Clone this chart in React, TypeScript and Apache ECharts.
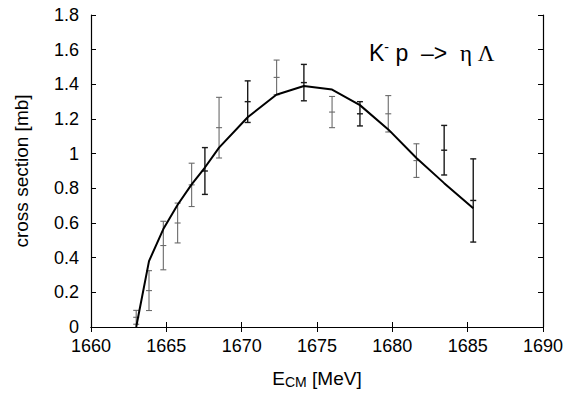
import React, { useEffect, useRef } from "react";
import * as echarts from "echarts";

const energies = [1663.0, 1663.85, 1664.8, 1665.75, 1666.68, 1667.56, 1668.5, 1670.4, 1672.32, 1674.13, 1676.0, 1677.85, 1679.73, 1681.6, 1683.44, 1685.37];
const values = [0.056, 0.21, 0.47, 0.6, 0.82, 0.9, 1.15, 1.3, 1.44, 1.41, 1.24, 1.23, 1.23, 0.96, 1.02, 0.73];
const errors = [0.04, 0.115, 0.14, 0.115, 0.125, 0.135, 0.175, 0.12, 0.1, 0.105, 0.09, 0.07, 0.105, 0.097, 0.143, 0.24];
const darkSet = [false, false, false, false, false, true, false, true, false, true, false, true, false, false, true, true];

const curveE = [1663.0, 1663.85, 1664.8, 1665.75, 1666.68, 1667.56, 1668.5, 1670.4, 1672.3, 1674.13, 1676.0, 1677.85, 1679.73, 1681.6, 1683.44, 1685.37];
const curveXS = [0, 0.38, 0.565, 0.705, 0.823, 0.92, 1.035, 1.21, 1.34, 1.39, 1.37, 1.28, 1.14, 0.975, 0.83, 0.685];

const FONT = "'Liberation Sans', Arial, Helvetica, sans-serif";

function makeErrSeries(dark: boolean) {
  const data: number[][] = [];
  energies.forEach((e, i) => {
    if (darkSet[i] === dark) data.push([e, values[i], values[i] - errors[i], values[i] + errors[i]]);
  });
  const color = dark ? "#1a1a1a" : "#6a6a6a";
  const lw = dark ? 1.4 : 1.1;
  return {
    type: "custom",
    xAxisIndex: 0,
    yAxisIndex: 0,
    data,
    z: 3,
    renderItem: (params: any, api: any) => {
      const x = api.value(0);
      const y = api.value(1);
      const lo = Math.max(0, api.value(2));
      const hi = api.value(3);
      const pc = api.coord([x, y]);
      const pl = api.coord([x, lo]);
      const ph = api.coord([x, hi]);
      const c = 3;
      const st = { stroke: color, lineWidth: lw };
      return {
        type: "group",
        children: [
          { type: "line", shape: { x1: pl[0], y1: pl[1], x2: ph[0], y2: ph[1] }, style: st },
          { type: "line", shape: { x1: pl[0] - c, y1: pl[1], x2: pl[0] + c, y2: pl[1] }, style: st },
          { type: "line", shape: { x1: ph[0] - c, y1: ph[1], x2: ph[0] + c, y2: ph[1] }, style: st },
          { type: "line", shape: { x1: pc[0] - c, y1: pc[1], x2: pc[0] + c, y2: pc[1] }, style: st },
        ],
      };
    },
  };
}

export default function App() {
  const ref = useRef<HTMLDivElement>(null);
  useEffect(() => {
    if (!ref.current) return;
    const chart = echarts.init(ref.current, null, { renderer: "svg" });
    const axisLine = { show: true, lineStyle: { color: "#000", width: 1.2 } };
    const tick = { show: true, inside: true, length: 5, lineStyle: { color: "#000", width: 1 } };
    chart.setOption({
      animation: false,
      backgroundColor: "#fff",
      grid: { left: 91, right: 27, top: 15, bottom: 59 },
      xAxis: [
        {
          type: "value",
          min: 1660,
          max: 1690,
          interval: 5,
          axisLine,
          axisTick: tick,
          splitLine: { show: false },
          axisLabel: {
            color: "#000",
            fontSize: 18,
            lineHeight: 14,
            fontFamily: FONT,
            margin: 12,
            formatter: (v: number) => String(v),
          },
          name: "{a|E}{s|CM}{a| [MeV]}",
          nameLocation: "middle",
          nameGap: 40,
          nameTextStyle: {
            rich: {
              a: { fontSize: 19, fontFamily: FONT, color: "#000" },
              s: { fontSize: 14, fontFamily: FONT, color: "#000", verticalAlign: "bottom", padding: [8, 0, 0, 0] },
            },
          },
        },
        {
          type: "value",
          position: "top",
          min: 1660,
          max: 1690,
          interval: 5,
          axisLine,
          axisTick: tick,
          splitLine: { show: false },
          axisLabel: { show: false },
        },
      ],
      yAxis: [
        {
          type: "value",
          min: 0,
          max: 1.8,
          interval: 0.2,
          axisLine,
          axisTick: tick,
          splitLine: { show: false },
          axisLabel: {
            color: "#000",
            fontSize: 18,
            lineHeight: 14,
            fontFamily: FONT,
            margin: 12,
            formatter: (v: number) => String(Math.round(v * 10) / 10),
          },
          name: "cross section [mb]",
          nameLocation: "middle",
          nameGap: 60,
          nameTextStyle: { fontSize: 19, fontFamily: FONT, color: "#000" },
        },
        {
          type: "value",
          position: "right",
          min: 0,
          max: 1.8,
          interval: 0.2,
          axisLine,
          axisTick: tick,
          splitLine: { show: false },
          axisLabel: { show: false },
        },
      ],
      graphic: [
        {
          type: "text",
          left: 369,
          top: 40,
          style: {
            text: "{a|K}{s|-}{a| p  –>  }{g|η }{g|Λ}",
            rich: {
              a: { fontSize: 23, fontFamily: FONT, fill: "#000" },
              s: { fontSize: 14, fontFamily: FONT, fill: "#000", verticalAlign: "top", padding: [0, 0, 12, 0] },
              g: { fontSize: 23, fontFamily: "'Liberation Serif', 'Times New Roman', serif", fill: "#000" },
            },
          },
        },
      ],
      series: [
        {
          type: "line",
          data: curveE.map((e, i) => [e, curveXS[i]]),
          showSymbol: false,
          lineStyle: { color: "#000", width: 2 },
          z: 4,
        },
        makeErrSeries(false),
        makeErrSeries(true),
      ],
    });
    return () => chart.dispose();
  }, []);
  return <div ref={ref} style={{ width: 570, height: 394, position: "absolute", left: 0, top: 0 }} />;
}
